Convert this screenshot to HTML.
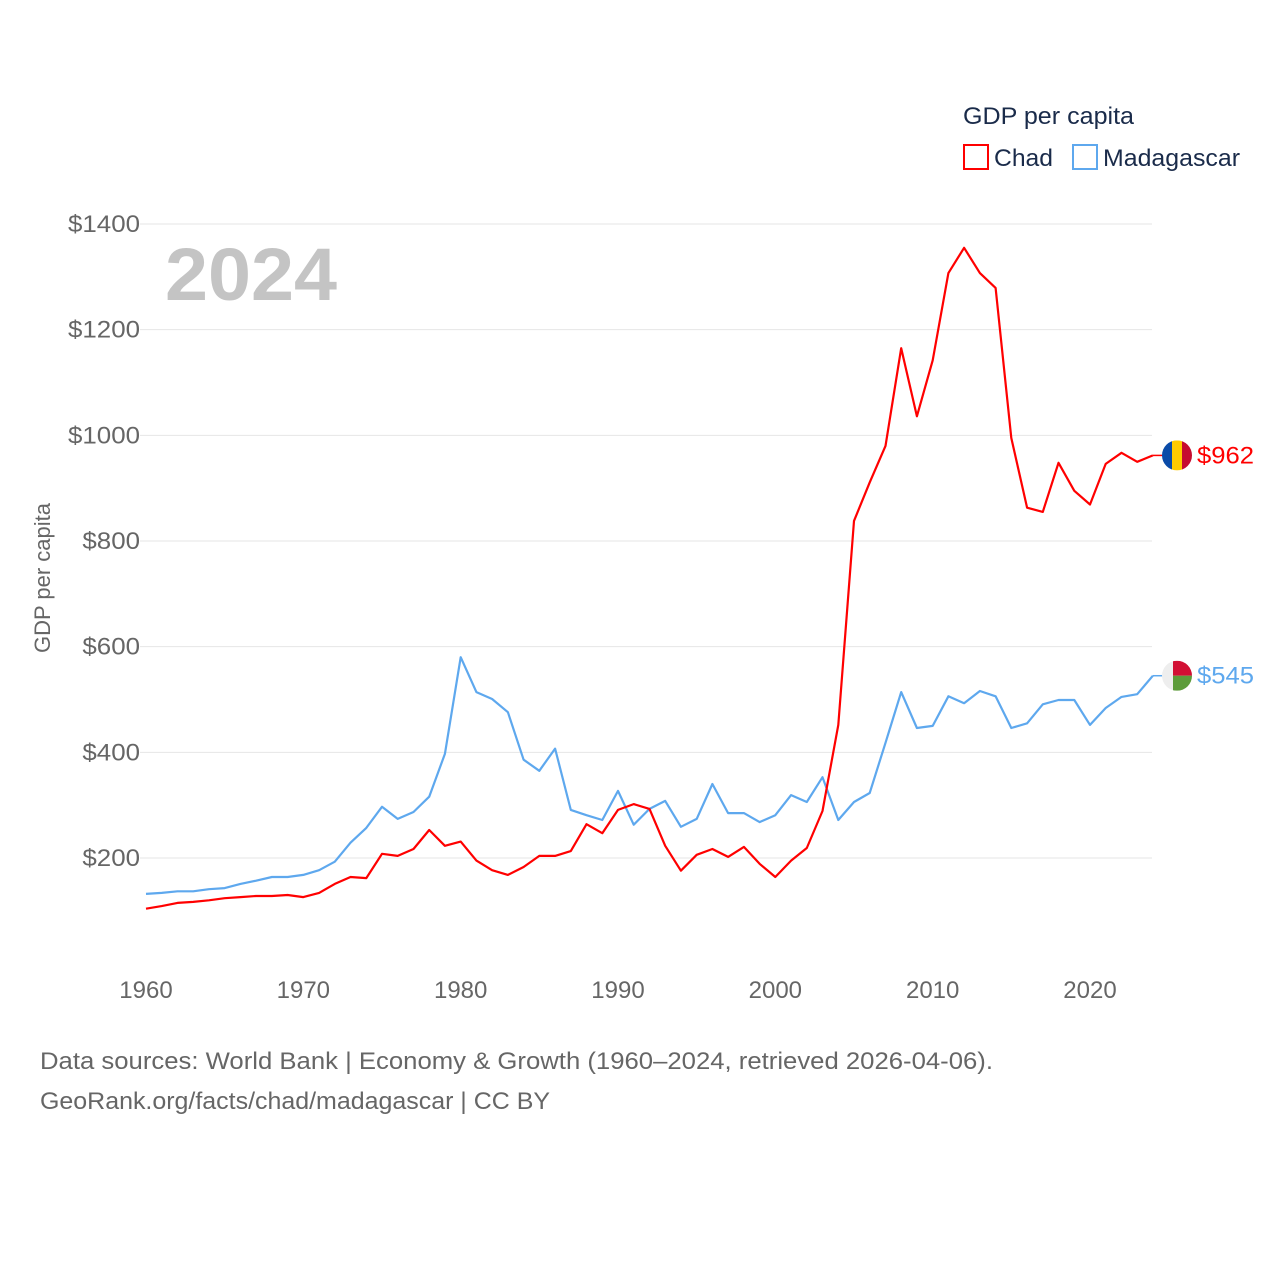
<!DOCTYPE html>
<html><head><meta charset="utf-8">
<style>
html,body{margin:0;padding:0;background:#fff;}
body{width:1280px;height:1280px;overflow:hidden;font-family:"Liberation Sans",sans-serif;}
</style></head>
<body>
<svg id="chart" width="1280" height="1280" viewBox="0 0 1280 1280" xmlns="http://www.w3.org/2000/svg" font-family="Liberation Sans, sans-serif">
  <g id="grid"></g>
  <g id="yticks"></g>
  <g id="xticks"></g>
  <text x="165" y="300" font-size="74" font-weight="bold" fill="#c4c4c4" textLength="172" lengthAdjust="spacingAndGlyphs">2024</text>
  <text transform="translate(50,578) rotate(-90)" text-anchor="middle" font-size="22" fill="#666">GDP per capita</text>
  <g>
    <text x="963" y="124" font-size="24" fill="#1a2b4a" textLength="171" lengthAdjust="spacingAndGlyphs">GDP per capita</text>
    <rect x="964" y="145" width="24" height="24" fill="none" stroke="#ff0000" stroke-width="2"/>
    <text x="994" y="166" font-size="24" fill="#1a2b4a" textLength="59" lengthAdjust="spacingAndGlyphs">Chad</text>
    <rect x="1073" y="145" width="24" height="24" fill="none" stroke="#5ea8ee" stroke-width="2"/>
    <text x="1103" y="166" font-size="24" fill="#1a2b4a" textLength="137" lengthAdjust="spacingAndGlyphs">Madagascar</text>
  </g>
  <g id="series"></g>
  <g id="ends"></g>
  <text x="40" y="1069" font-size="24" fill="#666" textLength="953" lengthAdjust="spacingAndGlyphs">Data sources: World Bank | Economy &amp; Growth (1960–2024, retrieved 2026-04-06).</text>
  <text x="40" y="1109" font-size="24" fill="#666" textLength="510" lengthAdjust="spacingAndGlyphs">GeoRank.org/facts/chad/madagascar | CC BY</text>
</svg>
<script>
const years = [];
for (let y = 1960; y <= 2024; y++) years.push(y);
const chad = [104,109,115,117,120,124,126,128,128,130,126,134,151,164,162,208,204,217,253,223,231,195,177,168,183,204,204,213,264,247,291,302,293,223,176,206,217,202,221,189,164,195,219,289,452,838,911,980,1165,1036,1142,1307,1355,1307,1279,995,863,855,948,895,869,946,967,950,962];
const madagascar = [132,134,137,137,141,143,151,157,164,164,168,177,193,229,257,297,274,287,316,397,580,514,501,476,386,365,407,291,281,272,327,263,293,308,259,274,340,285,285,268,281,319,306,353,272,306,323,418,514,446,450,506,493,516,506,446,455,491,499,499,452,484,505,510,545];
const yTicks = [200,400,600,800,1000,1200,1400];
const xTicks = [1960,1970,1980,1990,2000,2010,2020];

const NS = "http://www.w3.org/2000/svg";
const xS = yr => 146 + (yr - 1960) * (944 / 60);
const yS = v => 858 - (v - 200) * (634 / 1200);

function mk(tag, attrs, parent, txt) {
  const e = document.createElementNS(NS, tag);
  for (const k in attrs) e.setAttribute(k, attrs[k]);
  if (txt !== undefined) e.textContent = txt;
  parent.appendChild(e);
  return e;
}
const grid = document.getElementById('grid');
const yt = document.getElementById('yticks');
const xt = document.getElementById('xticks');
yTicks.forEach(v => {
  const l = mk('line', {x1: 140, x2: 1152, y1: yS(v), y2: yS(v), stroke: '#e6e6e6', 'stroke-width': 1}, grid);
  
  
  const label = '$' + v;
  const t = mk('text', {x: 140, y: yS(v) + 8, 'text-anchor': 'end', 'font-size': 24, fill: '#666', textLength: label.length * 14.4, lengthAdjust: 'spacingAndGlyphs'}, yt, label);
  
  
});
xTicks.forEach(yr => {
  const t = mk('text', {x: xS(yr), y: 998, 'text-anchor': 'middle', 'font-size': 24, fill: '#666'}, xt, String(yr));
  
  
});
const series = document.getElementById('series');
function line(vals, color, name) {
  const d = vals.map((v, i) => (i ? 'L' : 'M') + xS(years[i]).toFixed(1) + ' ' + yS(v).toFixed(1)).join(' ');
  const p = mk('path', {d: d, fill: 'none', stroke: color, 'stroke-width': 2.2, 'stroke-linejoin': 'round'}, series);
  
  
}
line(madagascar, '#5ea8ee', 'madagascar-line');
line(chad, '#ff0000', 'chad-line');

const ends = document.getElementById('ends');
function endLabel(vals, color, name, flag) {
  const v = vals[vals.length - 1];
  const x = xS(2024), y = yS(v);
  mk('line', {x1: x, x2: x + 10, y1: y, y2: y, stroke: color, 'stroke-width': 1.5}, ends);
  const g = mk('g', {}, ends);
  
  
  const cx = 1177, r = 15;
  mk('clipPath', {id: 'c' + name}, g);
  g.lastChild.appendChild(document.createElementNS(NS, 'circle'));
  const c = g.lastChild.lastChild; c.setAttribute('cx', cx); c.setAttribute('cy', y); c.setAttribute('r', r);
  const cg = mk('g', {'clip-path': 'url(#c' + name + ')'}, g);
  if (flag === 'chad') {
    mk('rect', {x: cx - r, y: y - r, width: 10, height: 30, fill: '#0a4ba8'}, cg);
    mk('rect', {x: cx - 5, y: y - r, width: 10, height: 30, fill: '#fecb00'}, cg);
    mk('rect', {x: cx + 5, y: y - r, width: 10, height: 30, fill: '#c60c30'}, cg);
  } else {
    mk('rect', {x: cx - r, y: y - r, width: 30, height: 30, fill: '#eee'}, cg);
    mk('rect', {x: cx - 4, y: y - r, width: 20, height: 15, fill: '#d21034'}, cg);
    mk('rect', {x: cx - 4, y: y, width: 20, height: 15, fill: '#5d9c3a'}, cg);
  }
  const t = mk('text', {x: 1197, y: y + 8, 'font-size': 24, fill: color, textLength: 57, lengthAdjust: 'spacingAndGlyphs'}, ends, '$' + v);
  
  
}
endLabel(chad, '#ff0000', 'chad', 'chad');
endLabel(madagascar, '#5ea8ee', 'madagascar', 'madagascar');
</script>
</body></html>
